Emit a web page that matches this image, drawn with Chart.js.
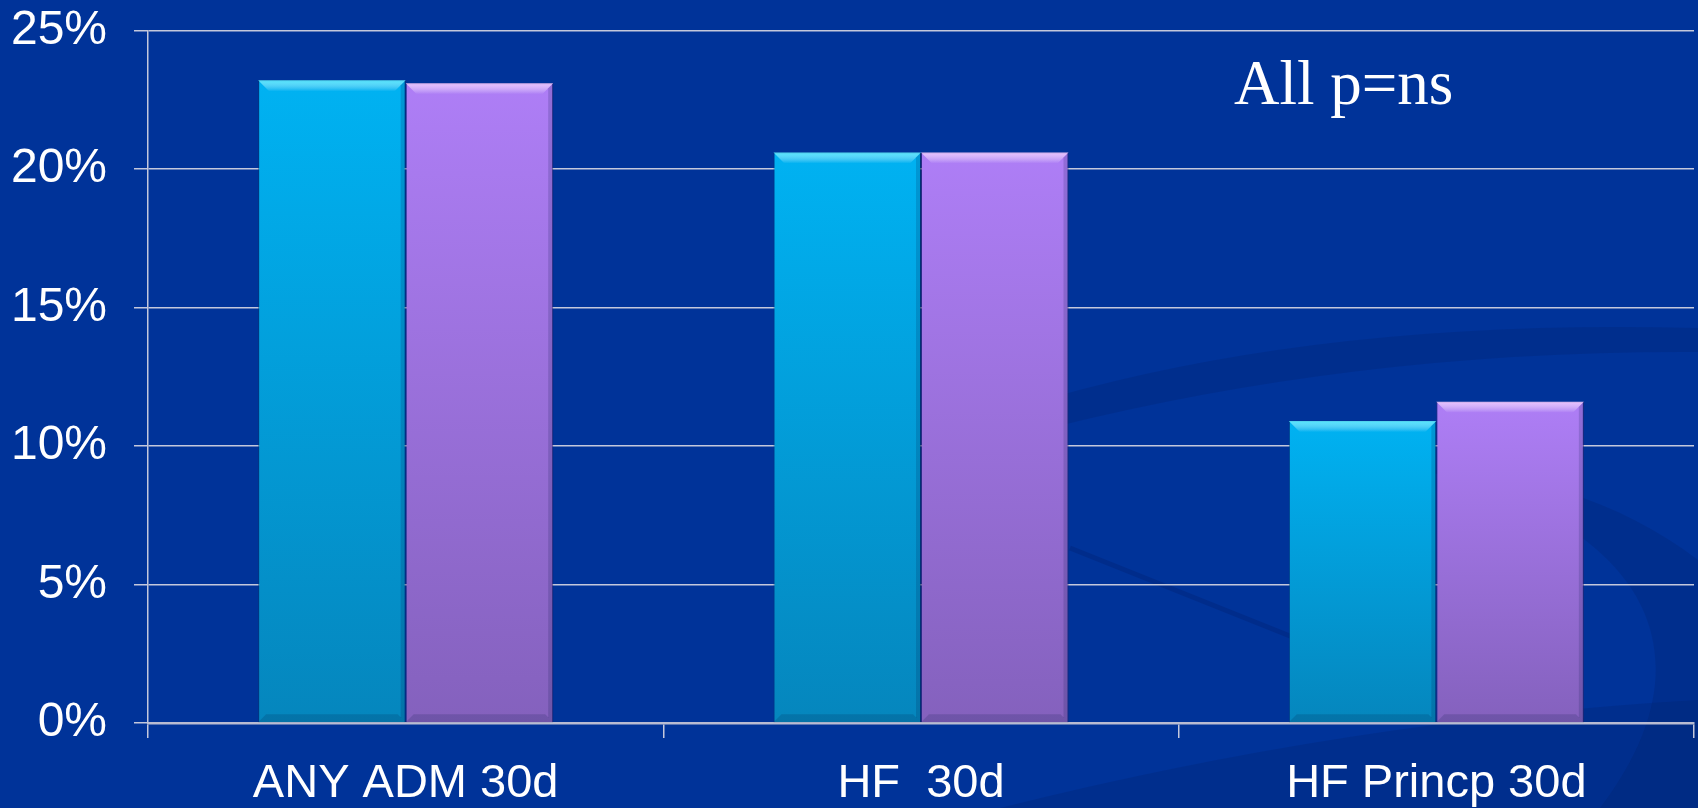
<!DOCTYPE html>
<html>
<head>
<meta charset="utf-8">
<script src="https://cdn.jsdelivr.net/npm/chart.js@4/dist/chart.umd.min.js"></script>
<style>
  html, body { margin: 0; padding: 0; background: #003399; }
  #wrap { width: 1698px; height: 808px; position: relative; }
</style>
</head>
<body>
<div id="wrap"><canvas id="readmitChart"></canvas></div>
<script>
// 数据
const categories = ['ANY ADM 30d', 'HF  30d', 'HF Princp 30d'];
const seriesA = [23.2, 20.6, 10.9];
const seriesB = [23.1, 20.6, 11.6];
const yTicks = [0, 5, 10, 15, 20, 25];
const note = 'All p=ns';

const gridColor = '#c4c8dc';
const labelFont = '"Liberation Sans", Arial, sans-serif';

// 每根柱子自己的纵向渐变
const barGradient = (top, bottom) => (context) => {
    const chart = context.chart;
    const area = chart.chartArea;
    if (!area || context.parsed == null) return top;
    const y = chart.scales.y.getPixelForValue(context.parsed.y);
    const g = chart.ctx.createLinearGradient(0, y, 0, area.bottom);
    g.addColorStop(0, top);
    g.addColorStop(1, bottom);
    return g;
};

// 背景上淡淡的深色弧线
const backdropPlugin = {
    id: 'backdrop',
    beforeDraw(chart) {
        const ctx = chart.ctx;
        ctx.save();
        ctx.fillStyle = 'rgba(0,25,90,0.18)';
        ctx.beginPath();
        ctx.moveTo(1050, 398);
        ctx.quadraticCurveTo(1330, 318, 1698, 328);
        ctx.lineTo(1698, 352);
        ctx.quadraticCurveTo(1360, 350, 1050, 428);
        ctx.closePath();
        ctx.fill();

        ctx.beginPath();
        ctx.moveTo(1420, 470);
        ctx.bezierCurveTo(1640, 520, 1720, 650, 1600, 808);
        ctx.lineTo(1698, 808);
        ctx.lineTo(1698, 560);
        ctx.bezierCurveTo(1620, 500, 1520, 470, 1420, 470);
        ctx.closePath();
        ctx.fill();

        ctx.beginPath();
        ctx.moveTo(1000, 808);
        ctx.quadraticCurveTo(1350, 720, 1698, 700);
        ctx.lineTo(1698, 808);
        ctx.closePath();
        ctx.fill();

        ctx.strokeStyle = 'rgba(0,25,90,0.22)';
        ctx.lineWidth = 5;
        ctx.beginPath();
        ctx.moveTo(1070, 548);
        ctx.quadraticCurveTo(1200, 600, 1300, 640);
        ctx.stroke();
        ctx.restore();
    }
};

// 柱顶斜面高光 + 边缘阴影, 以及右上角的注释
const bevelPlugin = {
    id: 'bevel',
    afterDatasetsDraw(chart) {
        const ctx = chart.ctx;
        const lights = ['rgba(90,235,255,0.9)', 'rgba(240,200,255,0.9)'];
        chart.data.datasets.forEach((ds, i) => {
            chart.getDatasetMeta(i).data.forEach(bar => {
                const l = bar.x - bar.width / 2, r = bar.x + bar.width / 2;
                const t = bar.y, b = bar.base, bv = 11;
                ctx.save();
                const g = ctx.createLinearGradient(0, t, 0, t + bv);
                g.addColorStop(0, lights[i]);
                g.addColorStop(1, 'rgba(255,255,255,0)');
                ctx.fillStyle = g;
                ctx.beginPath();
                ctx.moveTo(l, t); ctx.lineTo(r, t);
                ctx.lineTo(r - bv, t + bv); ctx.lineTo(l + bv, t + bv);
                ctx.closePath(); ctx.fill();
                // 右侧与底部暗边
                ctx.fillStyle = 'rgba(0,20,60,0.16)';
                ctx.beginPath();
                ctx.moveTo(r, t); ctx.lineTo(r, b); ctx.lineTo(r - 5, b - 5); ctx.lineTo(r - 5, t + 5);
                ctx.closePath(); ctx.fill();
                ctx.beginPath();
                ctx.moveTo(l, b); ctx.lineTo(r, b); ctx.lineTo(r - 8, b - 8); ctx.lineTo(l + 8, b - 8);
                ctx.closePath(); ctx.fill();
                ctx.restore();
            });
        });
    },
    afterDraw(chart) {
        const ctx = chart.ctx;
        ctx.save();
        ctx.fillStyle = '#ffffff';
        ctx.font = '63px "Liberation Serif", serif';
        ctx.textAlign = 'left';
        ctx.textBaseline = 'alphabetic';
        ctx.fillText(note, 1234, 104);
        ctx.restore();
    }
};

const initChart = () => {
    const ctx = document.getElementById('readmitChart').getContext('2d');
    new Chart(ctx, {
        type: 'bar',
        data: {
            labels: categories,
            datasets: [{
                data: seriesA,
                backgroundColor: barGradient('#00b2f2', '#0586bd'),
                borderColor: 'rgba(0,60,110,0.6)',
                borderWidth: 1
            }, {
                data: seriesB,
                backgroundColor: barGradient('#ae7ef6', '#8461bd'),
                borderColor: 'rgba(70,40,120,0.6)',
                borderWidth: 1
            }]
        },
        options: {
            responsive: true,
            maintainAspectRatio: false,
            animation: false,
            layout: { padding: { top: 30.5, right: 4, left: 0, bottom: 0 } },
            plugins: {
                legend: { display: false },
                tooltip: { enabled: false }
            },
            datasets: {
                bar: { categoryPercentage: 0.5725, barPercentage: 1 }
            },
            scales: {
                x: {
                    afterFit: (scale) => { scale.height = 85; },
                    grid: {
                        offset: true,
                        drawOnChartArea: false,
                        drawTicks: true,
                        tickLength: 15,
                        color: gridColor,
                        lineWidth: 1.5
                    },
                    border: { color: '#b8bcd2', width: 2.5 },
                    ticks: {
                        color: '#ffffff',
                        padding: 18,
                        font: { family: labelFont, size: 47 }
                    }
                },
                y: {
                    min: 0,
                    max: 25,
                    afterFit: (scale) => {
                        scale.width = 148;
                        scale.paddingTop = 0;
                        scale.paddingBottom = 0;
                    },
                    afterBuildTicks: (scale) => { scale.ticks = yTicks.map(v => ({ value: v })); },
                    grid: {
                        color: gridColor,
                        lineWidth: 1.5,
                        tickLength: 14
                    },
                    border: { color: gridColor, width: 1.5 },
                    ticks: {
                        color: '#ffffff',
                        padding: 27,
                        callback: (v) => v + '%',
                        font: { family: labelFont, size: 48 }
                    }
                }
            }
        },
        plugins: [backdropPlugin, bevelPlugin]
    });
};

document.addEventListener('DOMContentLoaded', initChart);
</script>
</body>
</html>
